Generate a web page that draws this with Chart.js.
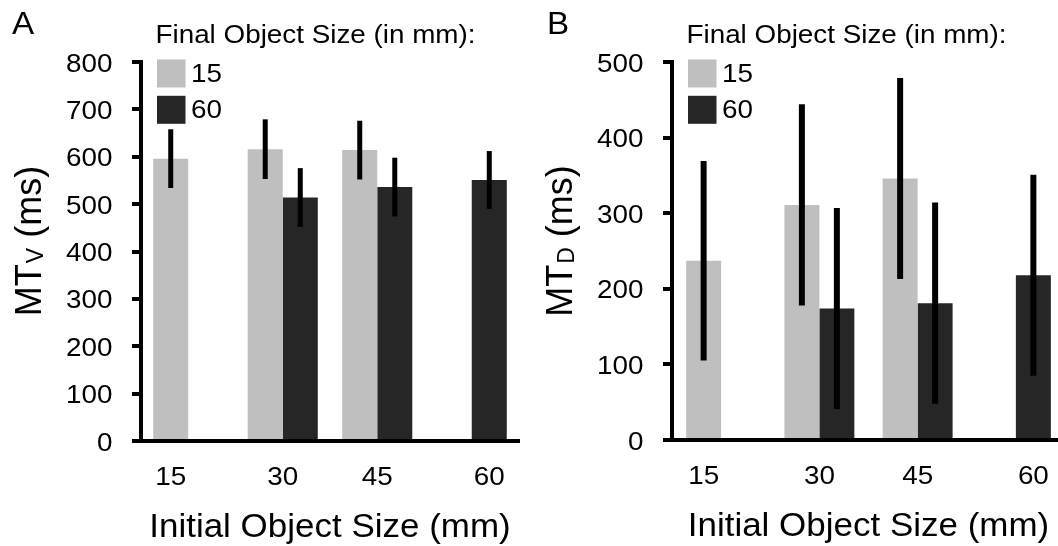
<!DOCTYPE html>
<html><head><meta charset="utf-8">
<script src="https://cdn.jsdelivr.net/npm/chart.js@4/dist/chart.umd.min.js"></script>
<style>
html,body{margin:0;padding:0;background:#fff;overflow:hidden;width:1058px;height:546px;position:relative;}
#wrapA{position:absolute;left:0;top:0;width:528px;height:546px;}
#wrapB{position:absolute;left:528px;top:0;width:545px;height:546px;}
canvas{display:block;}
</style></head><body>
<div id="wrapA"><canvas id="cA" width="528" height="546"></canvas></div>
<div id="wrapB"><canvas id="cB" width="545" height="546"></canvas></div>
<script>
// ---- data ----
const categories = ['15', '30', '45', '60'];          // initial object size (mm)
const seriesLabels = ['15', '60'];                     // final object size (mm)
const mtvFinal15 = [596, 616, 614, null];
const mtvFinal60 = [null, 514, 536, 551];
const mtvErr15 = [62, 63, 62, null];
const mtvErr60 = [null, 62, 62, 61];
const mtdFinal15 = [237, 311, 346, null];
const mtdFinal60 = [null, 174, 181, 218];
const mtdErr15 = [132, 133, 133, null];
const mtdErr60 = [null, 133, 133, 133];
const mtvTicks = [0, 100, 200, 300, 400, 500, 600, 700, 800];
const mtdTicks = [0, 100, 200, 300, 400, 500];
const legendTitle = 'Final Object Size (in mm):';
const xTitle = 'Initial Object Size (mm)';

const FONT = '"Liberation Sans", Arial, Helvetica, sans-serif';
const SX = 1.07;
const LIGHT = '#bfbfbf', DARK = '#262626';

function txt(ctx, s, x, y, size, align, sx) {
  ctx.save();
  ctx.font = size + 'px ' + FONT;
  ctx.fillStyle = '#000';
  ctx.textBaseline = 'alphabetic';
  ctx.textAlign = 'left';
  const w = ctx.measureText(s).width * sx;
  const x0 = align === 'center' ? x - w / 2 : align === 'right' ? x - w : x;
  ctx.translate(x0, y);
  ctx.scale(sx, 1);
  ctx.fillText(s, 0, 0);
  ctx.restore();
  return w;
}

const errorBars = {
  id: 'errorBars',
  afterDatasetsDraw(chart, args, opts) {
    const ctx = chart.ctx, ys = chart.scales.y;
    chart.data.datasets.forEach((ds, di) => {
      const meta = chart.getDatasetMeta(di);
      meta.data.forEach((bar, i) => {
        const v = ds.data[i], e = ds.errors[i];
        if (v == null || e == null) return;
        ctx.save();
        ctx.strokeStyle = '#000';
        ctx.lineWidth = opts.width;
        ctx.beginPath();
        ctx.moveTo(bar.x, ys.getPixelForValue(v + e));
        ctx.lineTo(bar.x, ys.getPixelForValue(v - e));
        ctx.stroke();
        ctx.restore();
      });
    });
  }
};

const panelText = {
  id: 'panelText',
  afterDraw(chart, args, o) {
    const ctx = chart.ctx, ca = chart.chartArea, ys = chart.scales.y;
    // panel letter
    txt(ctx, o.letter, o.letterX, 34, 31, 'left', SX);
    // legend
    txt(ctx, legendTitle, ca.left + 14.5, 43, 26, 'left', SX);
    chart.data.datasets.forEach((ds, di) => {
      const bx = ca.left + 16, by = 59.5 + di * 36.3;
      ctx.fillStyle = ds.backgroundColor;
      ctx.fillRect(bx, by, 28.5, 28);
      txt(ctx, ds.label, bx + 34, by + 22, 26, 'left', SX);
    });
    // y tick labels
    ys.ticks.forEach(t => {
      const py = ys.getPixelForValue(t.value);
      txt(ctx, String(t.value), ca.left - 28.5, py + 9.5, 26, 'right', SX);
    });
    // x tick labels centred on the visible bars of each category
    chart.data.labels.forEach((lab, i) => {
      let l = Infinity, r = -Infinity;
      chart.data.datasets.forEach((ds, di) => {
        if (ds.data[i] == null) return;
        const b = chart.getDatasetMeta(di).data[i];
        l = Math.min(l, b.x - b.width / 2);
        r = Math.max(r, b.x + b.width / 2);
      });
      txt(ctx, lab, (l + r) / 2, ca.bottom + 44, 26, 'center', SX);
    });
    // x title
    txt(ctx, xTitle, (ca.left + ca.right) / 2, ca.bottom + 96, 33, 'center', 1.06);
    // y title (rotated, with subscript)
    ctx.save();
    const mainSize = 36, subSize = 23;
    ctx.font = mainSize + 'px ' + FONT;
    const w1 = ctx.measureText(o.yMain).width;
    const w3 = ctx.measureText(' (ms)').width;
    ctx.font = subSize + 'px ' + FONT;
    const w2 = ctx.measureText(o.ySub).width;
    const total = w1 + w2 + w3 + 1;
    ctx.translate(ca.left - 100, 241);
    ctx.rotate(-Math.PI / 2);
    ctx.fillStyle = '#000';
    ctx.textBaseline = 'alphabetic';
    ctx.textAlign = 'left';
    let x = -total / 2;
    ctx.font = mainSize + 'px ' + FONT;
    ctx.fillText(o.yMain, x, 0); x += w1;
    ctx.font = subSize + 'px ' + FONT;
    ctx.fillText(o.ySub, x + 1, 2); x += w2 + 1;
    ctx.font = mainSize + 'px ' + FONT;
    ctx.fillText(' (ms)', x, 0);
    ctx.restore();
  }
};

function makeChart(id, cfg) {
  return new Chart(document.getElementById(id), {
    type: 'bar',
    data: {
      labels: categories,
      datasets: [
        { label: seriesLabels[0], data: cfg.v15, errors: cfg.e15, backgroundColor: LIGHT, borderWidth: 0 },
        { label: seriesLabels[1], data: cfg.v60, errors: cfg.e60, backgroundColor: DARK, borderWidth: 0 }
      ]
    },
    options: {
      responsive: false,
      animation: false,
      devicePixelRatio: 1,
      layout: { padding: { left: 0, top: cfg.top, right: cfg.right, bottom: 0 } },
      datasets: { bar: { categoryPercentage: cfg.cat, barPercentage: 1 } },
      plugins: {
        legend: { display: false },
        tooltip: { enabled: false },
        errorBars: { width: cfg.errW },
        panelText: { letter: cfg.letter, letterX: cfg.letterX, yMain: 'MT', ySub: cfg.sub }
      },
      scales: {
        x: {
          z: 1,
          grid: { display: false },
          border: { display: true, color: '#000', width: 4 },
          ticks: { display: false },
          afterFit: s => { s.height = cfg.xH; }
        },
        y: {
          min: cfg.ticks[0],
          max: cfg.ticks[cfg.ticks.length - 1],
          afterBuildTicks: s => { s.ticks = cfg.ticks.map(v => ({ value: v })); },
          grid: { drawOnChartArea: false, color: '#000', lineWidth: 4, tickLength: 9 },
          border: { display: true, color: '#000', width: 4 },
          ticks: { display: false },
          afterFit: s => { s.width = cfg.yW; }
        }
      }
    },
    plugins: [errorBars, panelText]
  });
}

makeChart('cA', { v15: mtvFinal15, v60: mtvFinal60, e15: mtvErr15, e60: mtvErr60, ticks: mtvTicks,
  top: 62, right: 9, yW: 141, xH: 105, cat: 0.7415, errW: 5, letter: 'A', letterX: 12, sub: 'V' });
makeChart('cB', { v15: mtdFinal15, v60: mtdFinal60, e15: mtdErr15, e60: mtdErr60, ticks: mtdTicks,
  top: 62, right: 8, yW: 144, xH: 106, cat: 0.712, errW: 6, letter: 'B', letterX: 19, sub: 'D' });
</script>
</body></html>
